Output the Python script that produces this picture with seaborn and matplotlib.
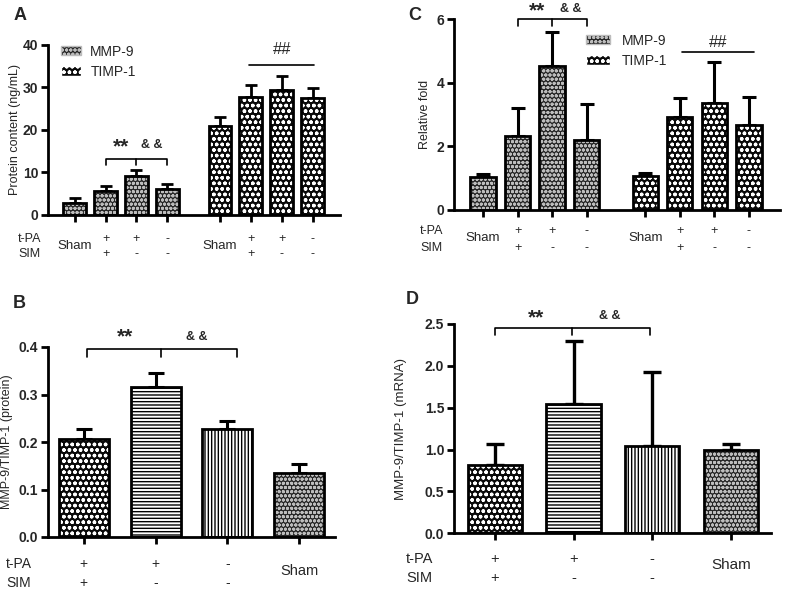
"""
MMP-9 / TIMP-1 bar charts (panels A-D)
"""

import numpy as np
import pandas as pd
import matplotlib
matplotlib.use("Agg")
import matplotlib.pyplot as plt
import seaborn as sns
from matplotlib.patches import Rectangle, Patch
from matplotlib.transforms import blended_transform_factory

sns.set_theme(style="ticks")
plt.rcParams["font.family"] = ["Liberation Sans", "DejaVu Sans"]
plt.rcParams["hatch.linewidth"] = 1.0

# ---- data ----
tpa_row = ["Sham", "+", "+", "-"]
sim_row = ["", "+", "-", "-"]

a_mmp9 = [2.8, 5.6, 9.2, 6.2]
a_mmp9_sd = [1.2, 1.2, 1.4, 1.1]
a_timp1 = [20.8, 27.6, 29.4, 27.5]
a_timp1_sd = [2.1, 3.0, 3.3, 2.4]

c_mmp9 = [1.03, 2.33, 4.54, 2.19]
c_mmp9_sd = [0.09, 0.86, 1.05, 1.14]
c_timp1 = [1.07, 2.93, 3.35, 2.66]
c_timp1_sd = [0.09, 0.60, 1.30, 0.90]

ratio_tpa_row = ["+", "+", "-", "Sham"]
ratio_sim_row = ["+", "-", "-", ""]
b_ratio = [0.206, 0.316, 0.227, 0.134]
b_ratio_sd = [0.022, 0.030, 0.017, 0.020]
d_ratio = [0.81, 1.54, 1.04, 0.99]
d_ratio_sd = [0.26, 0.76, 0.89, 0.08]

W, H = 786, 612

PATTERNS = {
    "fine": dict(face="#262626", hatch="oooo", hcolor="#bcbcbc"),
    "coarse": dict(face="#0a0a0a", hatch="ooo", hcolor="white"),
    "hline": dict(face="white", hatch="-----", hcolor="black"),
    "vline": dict(face="white", hatch="|||||", hcolor="black"),
}


def px_axes(l, r, b, t):
    """pixel box -> figure fraction rect"""
    return [l / W, 1 - b / H, (r - l) / W, (b - t) / H]


def style_bars(ax, kinds, lw=2.0):
    for p, k in zip(list(ax.patches), kinds):
        pat = PATTERNS[k]
        p.set_facecolor(pat["face"])
        p.set_hatch(pat["hatch"])
        p.set_edgecolor(pat["hcolor"])
        p.set_linewidth(0)
        ax.add_patch(Rectangle(p.get_xy(), p.get_width(), p.get_height(),
                               fill=False, ec="black", lw=lw, zorder=p.get_zorder() + 0.1))


def base_axis(ax, ylim, yticks, fmt):
    ax.set_ylim(*ylim)
    ax.set_yticks(yticks)
    ax.set_yticklabels([fmt.format(v) for v in yticks], fontweight="bold", fontsize=10)
    sns.despine(ax=ax)
    for s in ["left", "bottom"]:
        ax.spines[s].set_linewidth(2)
        ax.spines[s].set_color("black")
    ax.tick_params(axis="both", direction="out", width=2, length=5, color="black", pad=2)
    ax.set_xlabel("")


def row_labels(ax, pos, top, bottom, y_top, y_bot, y_mid, fs):
    tr = blended_transform_factory(ax.transData, ax.transAxes)
    for x, a, b in zip(pos, top, bottom):
        if a == "Sham":
            ax.text(x, y_mid, a, transform=tr, ha="center", va="center", fontsize=fs + 0.5)
            continue
        ax.text(x, y_top, a, transform=tr, ha="center", va="center", fontsize=fs)
        ax.text(x, y_bot, b, transform=tr, ha="center", va="center", fontsize=fs)


def bracket(ax, x0, xm, x1, ytop, yleg):
    ax.plot([x0, x0, x1, x1], [yleg, ytop, ytop, yleg], color="black", lw=1.2, clip_on=False)
    ax.plot([xm, xm], [ytop, yleg], color="black", lw=1.2, clip_on=False)


fig = plt.figure(figsize=(W / 100, H / 100), dpi=100)

# ---------------- panel A ----------------
axA = fig.add_axes(px_axes(48, 340, 215, 44.5))
posA = np.concatenate([np.arange(4), np.arange(4) + 4.7])
dfA = pd.DataFrame({"pos": posA, "val": a_mmp9 + a_timp1})
sns.barplot(data=dfA, x="pos", y="val", native_scale=True, errorbar=None,
            width=0.74, color="white", ax=axA)
style_bars(axA, ["fine"] * 4 + ["coarse"] * 4)
axA.errorbar(posA, dfA["val"], yerr=[np.zeros(8), a_mmp9_sd + a_timp1_sd], fmt="none",
             ecolor="black", elinewidth=2, capsize=4.3, capthick=2, zorder=0.5)
base_axis(axA, (0, 40), [0, 10, 20, 30, 40], "{:.0f}")
axA.set_xlim(-0.86, 8.58)
axA.set_xticks(posA)
axA.set_xticklabels([])
axA.set_ylabel("Protein content (ng/mL)", fontsize=9)
axA.yaxis.set_label_coords(-0.094, 0.5)
row_labels(axA, posA, tpa_row * 2, sim_row * 2, -0.141, -0.229, -0.182, 9)
bracket(axA, 1, 2, 3, 13.2, 11.7)
axA.text(1.5, 16.0, "**", ha="center", va="center", fontsize=15, fontweight="bold")
axA.text(2.5, 16.4, "& &", ha="center", va="center", fontsize=9, fontweight="bold")
axA.plot([5.65, 7.75], [35.3, 35.3], color="black", lw=1.2)
axA.text(6.7, 38.8, "##", ha="center", va="center", fontsize=12)
hA = [Patch(facecolor=PATTERNS["fine"]["face"], edgecolor=PATTERNS["fine"]["hcolor"],
            hatch=PATTERNS["fine"]["hatch"]),
      Patch(facecolor=PATTERNS["coarse"]["face"], edgecolor="white", hatch=PATTERNS["coarse"]["hatch"])]
axA.legend(hA, ["MMP-9", "TIMP-1"], loc="upper left", bbox_to_anchor=(0.045, 1.0),
           frameon=False, fontsize=10, borderpad=0, borderaxespad=0,
           handlelength=1.45, handleheight=0.65, handletextpad=0.65, labelspacing=0.45)

# ---------------- panel C ----------------
axC = fig.add_axes(px_axes(454, 780, 209.5, 19.3))
posC = np.concatenate([np.arange(4), np.arange(4) + 4.7])
dfC = pd.DataFrame({"pos": posC, "val": c_mmp9 + c_timp1})
sns.barplot(data=dfC, x="pos", y="val", native_scale=True, errorbar=None,
            width=0.73, color="white", ax=axC)
style_bars(axC, ["fine"] * 4 + ["coarse"] * 4)
axC.errorbar(posC, dfC["val"], yerr=[np.zeros(8), c_mmp9_sd + c_timp1_sd], fmt="none",
             ecolor="black", elinewidth=2.2, capsize=5, capthick=2.2, zorder=0.5)
base_axis(axC, (0, 6), [0, 2, 4, 6], "{:.0f}")
axC.set_xlim(-0.84, 8.6)
axC.set_xticks(posC)
axC.set_xticklabels([])
axC.set_ylabel("Relative fold", fontsize=9)
axC.yaxis.set_label_coords(-0.071, 0.5)
row_labels(axC, posC, tpa_row * 2, sim_row * 2, -0.113, -0.201, -0.150, 9)
bracket(axC, 1, 2, 3, 6.0, 5.8)
axC.text(1.55, 6.28, "**", ha="center", va="center", fontsize=15, fontweight="bold", clip_on=False)
axC.text(2.55, 6.32, "& &", ha="center", va="center", fontsize=9, fontweight="bold", clip_on=False)
axC.plot([5.76, 7.86], [4.98, 4.98], color="black", lw=1.2)
axC.text(6.8, 5.28, "##", ha="center", va="center", fontsize=12)
axC.legend(hA, ["MMP-9", "TIMP-1"], loc="upper left", bbox_to_anchor=(0.405, 0.925),
           frameon=False, fontsize=10, borderpad=0, borderaxespad=0,
           handlelength=1.7, handleheight=0.65, handletextpad=0.85, labelspacing=0.45)

# ---------------- panel B ----------------
axB = fig.add_axes(px_axes(48, 335, 537, 347))
posB = np.arange(4)
dfB = pd.DataFrame({"pos": posB, "val": b_ratio})
sns.barplot(data=dfB, x="pos", y="val", native_scale=True, errorbar=None,
            width=0.7, color="white", ax=axB)
style_bars(axB, ["coarse", "hline", "vline", "fine"])
axB.errorbar(posB, b_ratio, yerr=[np.zeros(4), b_ratio_sd], fmt="none",
             ecolor="black", elinewidth=2.2, capsize=5.7, capthick=2.2, zorder=0.5)
base_axis(axB, (0, 0.4), [0.0, 0.1, 0.2, 0.3, 0.4], "{:.1f}")
axB.set_xlim(-0.5, 3.5)
axB.set_xticks(posB)
axB.set_xticklabels([])
axB.set_ylabel("MMP-9/TIMP-1 (protein)", fontsize=9)
axB.yaxis.set_label_coords(-0.122, 0.5)
row_labels(axB, posB, ratio_tpa_row, ratio_sim_row, -0.142, -0.241, -0.179, 10)
bracket(axB, 0.05, 1.07, 2.13, 0.396, 0.379)
axB.text(0.57, 0.421, "**", ha="center", va="center", fontsize=15, fontweight="bold")
axB.text(1.58, 0.421, "& &", ha="center", va="center", fontsize=9, fontweight="bold")

# ---------------- panel D ----------------
axD = fig.add_axes(px_axes(454, 771, 533.3, 324))
posD = np.arange(4)
dfD = pd.DataFrame({"pos": posD, "val": d_ratio})
sns.barplot(data=dfD, x="pos", y="val", native_scale=True, errorbar=None,
            width=0.69, color="white", ax=axD)
style_bars(axD, ["coarse", "hline", "vline", "fine"])
axD.errorbar(posD, d_ratio, yerr=[np.zeros(4), d_ratio_sd], fmt="none",
             ecolor="black", elinewidth=2.4, capsize=6.8, capthick=2.4, zorder=0.5)
base_axis(axD, (0, 2.5), [0.0, 0.5, 1.0, 1.5, 2.0, 2.5], "{:.1f}")
axD.set_xlim(-0.52, 3.51)
axD.set_xticks(posD)
axD.set_xticklabels([])
axD.set_ylabel("MMP-9/TIMP-1 (mRNA)", fontsize=9.5)
axD.yaxis.set_label_coords(-0.148, 0.5)
row_labels(axD, posD, ratio_tpa_row, ratio_sim_row, -0.123, -0.214, -0.151, 10.5)
bracket(axD, 0.0, 0.98, 1.97, 2.45, 2.37)
axD.text(0.52, 2.57, "**", ha="center", va="center", fontsize=15, fontweight="bold")
axD.text(1.46, 2.6, "& &", ha="center", va="center", fontsize=9, fontweight="bold")

# row names and panel letters
for x, y1, y2, fs in [(18, 239, 254, 9), (420, 231, 248, 9), (6, 564, 583, 10), (406, 559, 578, 10.5)]:
    fig.text(x / W, 1 - y1 / H, "t-PA", ha="left", va="center", fontsize=fs)
    fig.text(x / W, 1 - y2 / H, "SIM", ha="left", va="center", fontsize=fs)
for s, x, y in [("A", 20, 16), ("C", 415, 15.5), ("B", 19, 303), ("D", 412, 300)]:
    fig.text(x / W, 1 - y / H, s, ha="center", va="center", fontsize=13, fontweight="bold")

fig.savefig("out.png", dpi=100)
